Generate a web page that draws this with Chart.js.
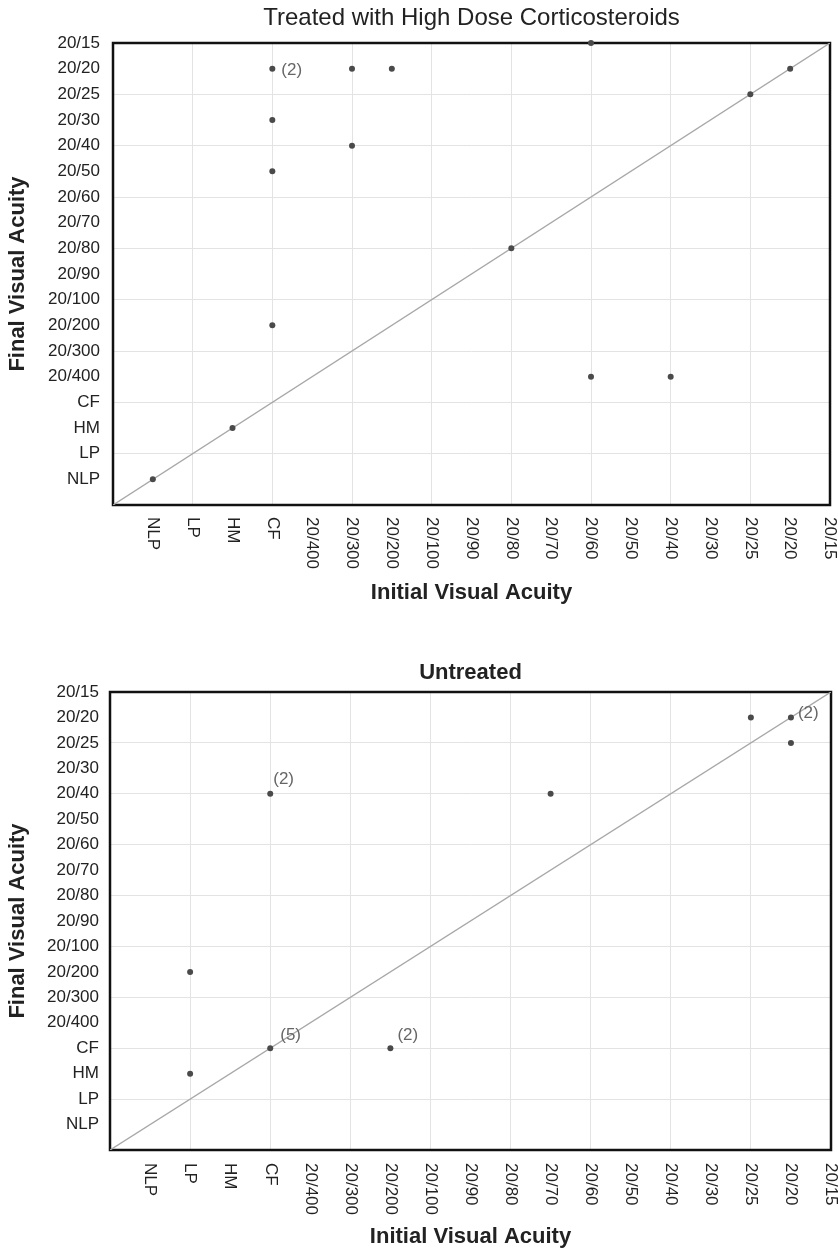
<!DOCTYPE html>
<html><head><meta charset="utf-8">
<script src="https://cdn.jsdelivr.net/npm/chart.js@4.4.1/dist/chart.umd.min.js"></script>
<style>html,body{margin:0;padding:0;background:#fff}canvas{display:block}</style>
</head><body>
<canvas id="c1" width="838" height="625"></canvas>
<canvas id="c2" width="838" height="630"></canvas>
<script>
// ---- data ----
const acuityLabels = ['NLP','LP','HM','CF','20/400','20/300','20/200','20/100','20/90','20/80','20/70','20/60','20/50','20/40','20/30','20/25','20/20','20/15'];
const axisRange = [-1, 17];

const treatedInitial = ['CF','20/300','20/200','20/60','20/20','20/25','CF','20/300','CF','20/80','CF','20/60','20/40','HM','NLP'];
const treatedFinal   = ['20/20','20/20','20/20','20/15','20/20','20/25','20/30','20/40','20/50','20/80','20/200','20/400','20/400','HM','NLP'];
const treatedCount   = [2,1,1,1,1,1,1,1,1,1,1,1,1,1,1];

const untreatedInitial = ['20/25','20/20','20/20','CF','20/70','LP','LP','CF','20/200'];
const untreatedFinal   = ['20/20','20/20','20/25','20/40','20/40','20/200','HM','CF','CF'];
const untreatedCount   = [1,2,1,2,1,1,1,5,2];

const chartTitles = ['Treated with High Dose Corticosteroids', 'Untreated'];
const xAxisTitle = 'Initial Visual Acuity';
const yAxisTitle = 'Final Visual Acuity';

// ---- helpers ----
const FAMILY = '"Liberation Sans", Arial, Helvetica, sans-serif';
const idx = l => acuityLabels.indexOf(l);
const pts = (init, fin) => init.map((a, i) => ({x: idx(a), y: idx(fin[i])}));

const gridColor = c => {
  const v = c.tick ? c.tick.value : null;
  if (v === null || v <= axisRange[0] || v >= axisRange[1]) return 'rgba(0,0,0,0)';
  return (Math.abs(v) % 2 === 1) ? '#e3e3e3' : 'rgba(0,0,0,0)';
};

const framePlugin = {
  id: 'frame',
  beforeDatasetsDraw(chart) {
    const {ctx, chartArea: a} = chart;
    ctx.save();
    ctx.strokeStyle = '#111';
    ctx.lineWidth = 2.5;
    ctx.strokeRect(a.left, a.top, a.right - a.left, a.bottom - a.top);
    ctx.restore();
  }
};

const xLabelPlugin = {
  id: 'xLabels',
  afterDraw(chart, args, opts) {
    const {ctx, chartArea: a} = chart;
    const xs = chart.scales.x;
    ctx.save();
    ctx.font = '17px ' + FAMILY;
    ctx.fillStyle = '#222';
    ctx.textAlign = 'left';
    ctx.textBaseline = 'middle';
    acuityLabels.forEach((l, i) => {
      const px = xs.getPixelForValue(i);
      ctx.save();
      ctx.translate(px, a.bottom + opts.pad);
      ctx.rotate(Math.PI / 2);
      ctx.fillText(l, 0, 0);
      ctx.restore();
    });
    ctx.restore();
  }
};

const countPlugin = {
  id: 'countLabels',
  afterDatasetsDraw(chart, args, opts) {
    const {ctx} = chart;
    const ds = chart.data.datasets[0];
    const meta = chart.getDatasetMeta(0);
    ctx.save();
    ctx.font = '17px ' + FAMILY;
    ctx.fillStyle = '#666';
    ctx.textAlign = 'left';
    ctx.textBaseline = 'middle';
    ds.counts.forEach((n, i) => {
      if (n > 1) {
        const el = meta.data[i];
        const off = (opts.offsets && opts.offsets[i]) || [8, 1];
        ctx.fillText('(' + n + ')', el.x + off[0], el.y + off[1]);
      }
    });
    ctx.restore();
  }
};

function makeChart(id, cfg) {
  return new Chart(document.getElementById(id), {
    type: 'scatter',
    data: {
      datasets: [
        { data: pts(cfg.initial, cfg.final), counts: cfg.counts,
          pointRadius: 3, pointHoverRadius: 3, backgroundColor: '#4a4a4a', borderColor: '#4a4a4a',
          borderWidth: 0, clip: false },
        { type: 'line', data: axisRange.map(v => ({x: v, y: v})),
          borderColor: '#a8a8a8', borderWidth: 1.4, pointRadius: 0, fill: false }
      ]
    },
    options: {
      responsive: false, animation: false, devicePixelRatio: 1,
      events: [],
      layout: { padding: { left: 0, right: cfg.padRight, top: 0, bottom: 0 } },
      plugins: {
        legend: { display: false },
        tooltip: { enabled: false },
        title: { display: true, text: cfg.title, fullSize: false, color: '#222',
          font: { family: FAMILY, size: cfg.titleSize, weight: cfg.titleWeight, lineHeight: 1.2 },
          padding: { top: cfg.titlePadTop, bottom: cfg.titlePadBottom } },
        xLabels: { pad: cfg.xLabelPad },
        countLabels: { offsets: cfg.offsets }
      },
      scales: {
        x: {
          type: 'linear', min: axisRange[0], max: axisRange[1],
          afterFit(s) { s.height = cfg.xHeight; },
          ticks: { display: false, stepSize: 1, autoSkip: false },
          grid: { color: gridColor, drawTicks: false, lineWidth: 1 },
          border: { display: false },
          title: { display: true, text: xAxisTitle, color: '#222',
            font: { family: FAMILY, size: 22, weight: 'bold', lineHeight: 1.2 },
            padding: { top: 0, bottom: cfg.xTitlePadBottom } }
        },
        y: {
          type: 'linear', min: axisRange[0], max: axisRange[1],
          afterFit(s) { s.width = cfg.yWidth; },
          ticks: { stepSize: 1, autoSkip: false, padding: cfg.yTickPad, color: '#222',
            font: { family: FAMILY, size: 17 },
            callback: v => (acuityLabels[v] !== undefined ? acuityLabels[v] : '') },
          grid: { color: gridColor, drawTicks: false, lineWidth: 1 },
          border: { display: false },
          title: { display: true, text: yAxisTitle, color: '#222',
            font: { family: FAMILY, size: 22, weight: 'bold', lineHeight: 1.2 },
            padding: { top: 5, bottom: 0 } }
        }
      }
    },
    plugins: [framePlugin, xLabelPlugin, countPlugin]
  });
}

makeChart('c1', {
  initial: treatedInitial, final: treatedFinal, counts: treatedCount,
  title: chartTitles[0], titleSize: 24, titleWeight: 'normal', titlePadTop: 3.6, titlePadBottom: 10.6,
  padRight: 8, yWidth: 113, xHeight: 120, xLabelPad: 12, xTitlePadBottom: 18.8, yTickPad: 13,
  offsets: { 0: [9, 2] }
});

makeChart('c2', {
  initial: untreatedInitial, final: untreatedFinal, counts: untreatedCount,
  title: chartTitles[1], titleSize: 22, titleWeight: 'bold', titlePadTop: 34.8, titlePadBottom: 5.8,
  padRight: 7, yWidth: 110, xHeight: 105, xLabelPad: 13, xTitlePadBottom: 4.8, yTickPad: 11,
  offsets: { 1: [7, -4], 3: [3, -14], 7: [10, -13], 8: [7, -13] }
});
</script>
</body></html>
